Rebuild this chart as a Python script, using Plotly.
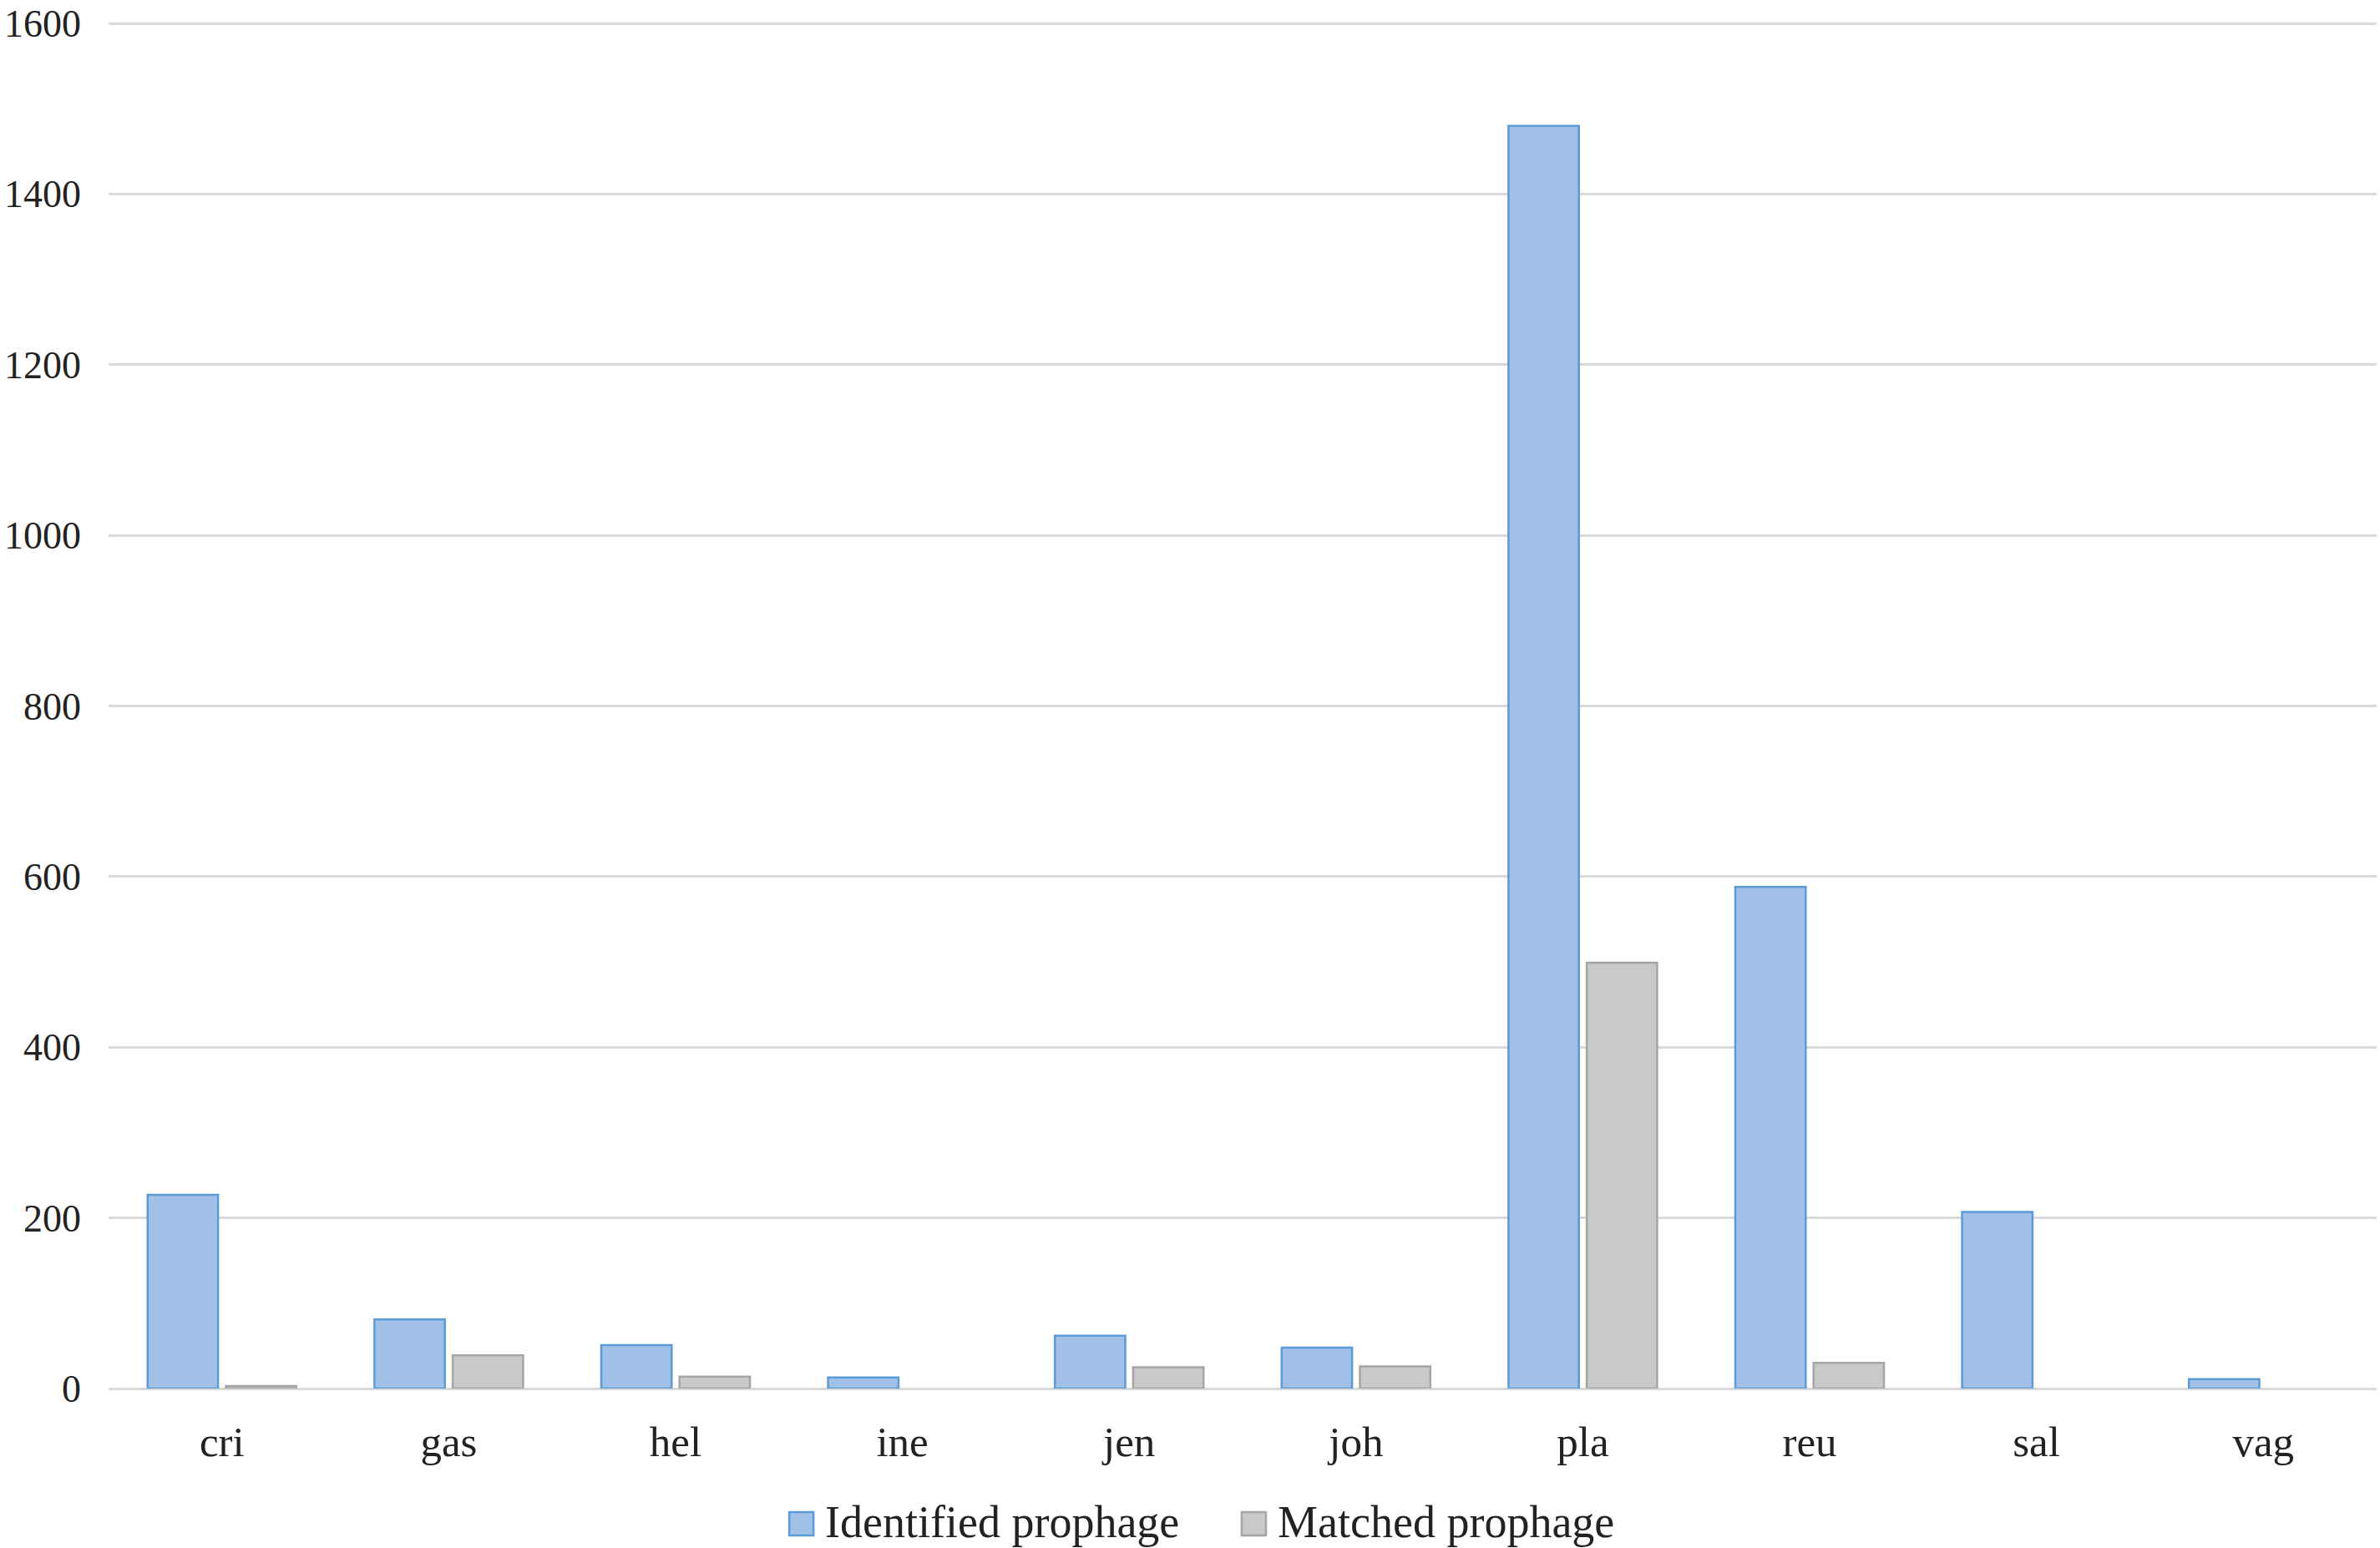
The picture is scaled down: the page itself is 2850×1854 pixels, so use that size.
import plotly.graph_objects as go

# species (abbreviated) and counts
categories = ["cri", "gas", "hel", "ine", "jen", "joh", "pla", "reu", "sal", "vag"]
identified = [227, 81, 51, 13, 62, 48, 1480, 588, 207, 11]
matched = [3, 39, 14, 0, 25, 26, 499, 30, 0, 0]
y_ticks = [0, 200, 400, 600, 800, 1000, 1200, 1400, 1600]
series_names = ["Identified prophage", "Matched prophage"]

FONT = "Liberation Serif, Times New Roman, serif"
TEXT = "#222222"
FILLS = ["#a0c0e7", "#c9c9c9"]
EDGES = ["#5b9bd5", "#a5a5a5"]

fig = go.Figure()
for name, vals, fill, edge in zip(series_names, [identified, matched], FILLS, EDGES):
    # zero counts get no outline so no flat line shows on the axis
    widths = [2.5 if v > 0 else 0 for v in vals]
    fig.add_trace(go.Bar(
        x=categories, y=vals, name=name,
        marker=dict(color=fill, line=dict(color=edge, width=widths)),
    ))

# legend drawn by hand so the swatches can be as big as in the original
swatch_x = [0.3001, 0.4996]
for name, x0, fill, edge in zip(series_names, swatch_x, FILLS, EDGES):
    fig.add_shape(type="rect", xref="paper", yref="paper",
                  x0=x0, x1=x0 + 0.0107, y0=-0.1076, y1=-0.0905,
                  fillcolor=fill, line=dict(color=edge, width=2.5))
    fig.add_annotation(text=name, xref="paper", yref="paper",
                       x=x0 + 0.0150, y=-0.0980, xanchor="left", yanchor="middle",
                       showarrow=False,
                       font=dict(size=54, family=FONT, color=TEXT))

fig.update_layout(
    width=2850, height=1854,
    margin=dict(l=130, r=4, t=27, b=191),
    paper_bgcolor="white", plot_bgcolor="white",
    barmode="group", bargap=0.31, bargroupgap=0.1,
    font=dict(family=FONT, color=TEXT),
    showlegend=False,
)

fig.update_yaxes(
    range=[0, 1601], tickvals=y_ticks, showline=False, automargin=False,
    gridcolor="#d9d9d9", gridwidth=3,
    zeroline=True, zerolinecolor="#d9d9d9", zerolinewidth=3,
    tickfont=dict(size=46, family=FONT, color=TEXT),
    ticklabelstandoff=32, ticklabeloverflow="allow",
)
fig.update_xaxes(
    showline=False, showgrid=False, automargin=False,
    tickfont=dict(size=51, family=FONT, color=TEXT),
    ticklabelstandoff=29,
)

# drop the browser's default 8px body margin so the figure sits at the page corner
fig.write_html("out.html", config={"displayModeBar": False},
               post_script="document.body.style.margin='0';")
